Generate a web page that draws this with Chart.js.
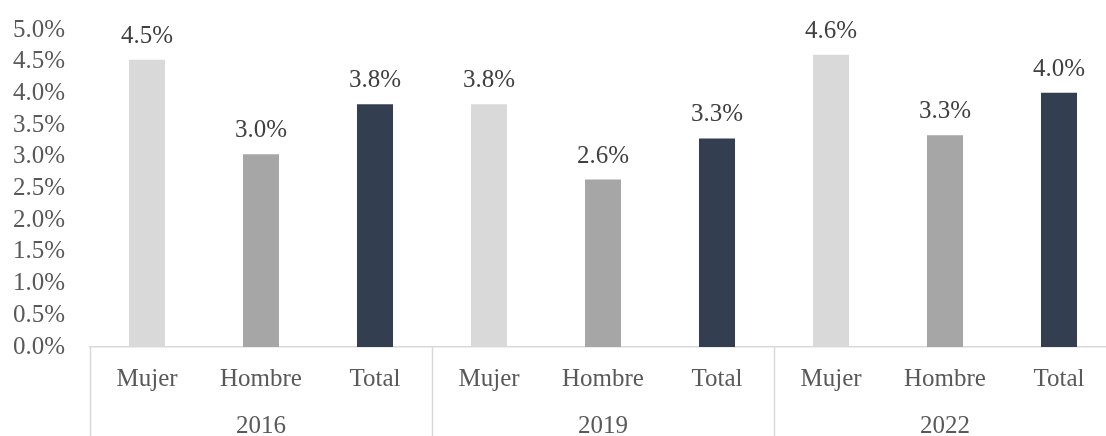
<!DOCTYPE html>
<html>
<head>
<meta charset="utf-8">
<script src="https://cdn.jsdelivr.net/npm/chart.js@4"></script>
<style>
  html, body { margin: 0; padding: 0; background: #fff; overflow: hidden; }
  #wrap { width: 1120px; height: 436px; }
</style>
</head>
<body>
<div id="wrap"><canvas id="myChart"></canvas></div>
<script>
'use strict';

// data
var years = ['2016', '2019', '2022'];
var groups = ['Mujer', 'Hombre', 'Total'];
var mujer = [4.53, 3.83, 4.61];
var hombre = [3.04, 2.64, 3.34];
var total = [3.83, 3.29, 4.01];
var yTicks = [0, 0.5, 1, 1.5, 2, 2.5, 3, 3.5, 4, 4.5, 5];

var groupColors = ['#d9d9d9', '#a6a6a6', '#333f50'];
var font = "'Liberation Serif', 'Times New Roman', serif";
var fontSize = 25;

// flatten into 9 bars
var labels = [];
var values = [];
var colors = [];
for (var i = 0; i < years.length; i++) {
  var row = [mujer[i], hombre[i], total[i]];
  for (var j = 0; j < groups.length; j++) {
    labels.push(groups[j]);
    values.push(row[j]);
    colors.push(groupColors[j]);
  }
}

//labels, separators, year row
var extras = {
  id: 'extras',
  afterDatasetsDraw: function(chart) {
    var ctx = chart.ctx;
    var meta = chart.getDatasetMeta(0);
    ctx.save();
    ctx.font = fontSize + 'px ' + font;
    ctx.textAlign = 'center';
    ctx.textBaseline = 'alphabetic';
    ctx.fillStyle = '#404040';
    meta.data.forEach(function(bar, k) {
      ctx.fillText(values[k].toFixed(1) + '%', bar.x, bar.y - 17);
    });

    var x = chart.scales.x;
    var area = chart.chartArea;
    var h = chart.height;
    ctx.fillStyle = '#595959';
    for (var k = 0; k < labels.length; k++) {
      ctx.fillText(labels[k], x.getPixelForValue(k), 386);
    }
    var step = (area.right - area.left) / labels.length;
    for (var g = 0; g < years.length; g++) {
      var cx = area.left + step * (g * 3 + 1.5);
      ctx.fillText(years[g], cx, 433);
    }
    ctx.strokeStyle = '#d9d9d9';
    ctx.lineWidth = 1.5;
    for (var s = 0; s <= years.length; s++) {
      var sx = Math.round(area.left + step * 3 * s) + 0.5;
      ctx.beginPath();
      ctx.moveTo(sx, area.bottom);
      ctx.lineTo(sx, h);
      ctx.stroke();
    }
    ctx.restore();
  }
};

var ctx = document.getElementById('myChart').getContext('2d');
var chart = new Chart(ctx, {
  type: 'bar',
  data: {
    labels: labels,
    datasets: [{
      data: values,
      backgroundColor: colors,
      barPercentage: 0.316,
      categoryPercentage: 1
    }]
  },
  options: {
    responsive: true,
    maintainAspectRatio: false,
    animation: false,
    layout: { padding: { top: 0, right: 4, left: 0, bottom: 0 } },
    plugins: {
      legend: { display: false },
      tooltip: { enabled: false }
    },
    scales: {
      x: {
        grid: { display: false, drawTicks: false },
        border: { display: true, color: '#d9d9d9', width: 1.5 },
        ticks: { display: false },
        afterFit: function(scale) { scale.height = 89; }
      },
      y: {
        min: 0,
        max: 5,
        grid: { display: false, drawTicks: false },
        border: { display: false },
        afterBuildTicks: function(scale) {
          scale.ticks = yTicks.map(function(v) { return { value: v }; });
        },
        ticks: {
          autoSkip: false,
          padding: 25,
          color: '#595959',
          font: { family: font, size: fontSize },
          callback: function(v) { return v.toFixed(1) + '%'; }
        },
        afterFit: function(scale) {
          scale.width = 90;
          scale.paddingTop = 30;
          scale.paddingBottom = 0;
        }
      }
    }
  },
  plugins: [extras]
});
</script>
</body>
</html>
